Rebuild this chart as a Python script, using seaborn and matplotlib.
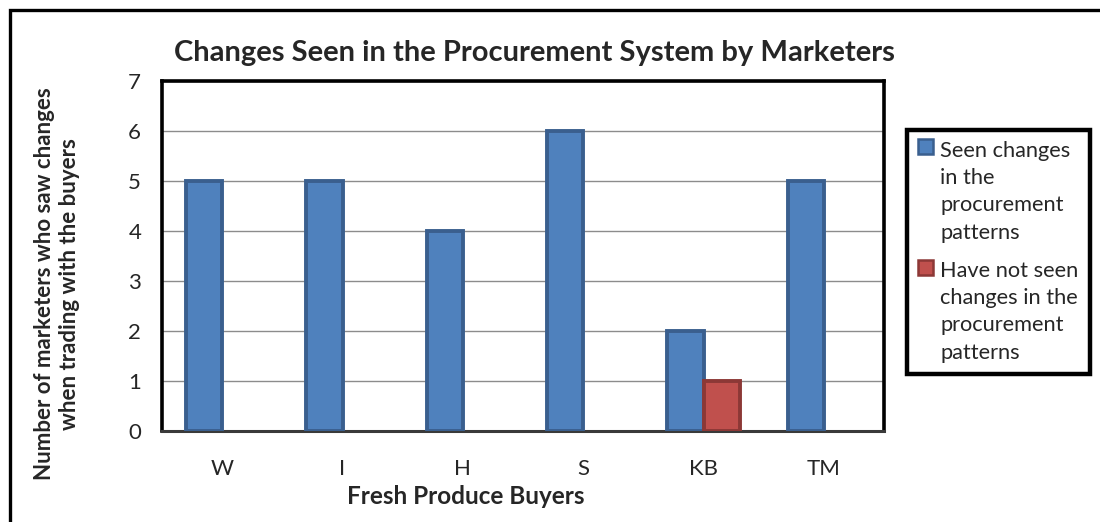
import pandas as pd
import numpy as np
import matplotlib.pyplot as plt
import seaborn as sns
from matplotlib.patches import Rectangle
from matplotlib.legend_handler import HandlerPatch

buyers = ['W', 'I', 'H', 'S', 'KB', 'TM']
seen = [5, 5, 4, 6, 2, 5]
not_seen_buyer = ['KB']
not_seen = [1]

lab_seen = 'Seen changes\nin the\nprocurement\npatterns'
lab_not = 'Have not seen\nchanges in the\nprocurement\npatterns'

rows = [(b, v, 'seen') for b, v in zip(buyers, seen)]
rows += [(b, v, 'not') for b, v in zip(not_seen_buyer, not_seen)]
df = pd.DataFrame(rows, columns=['buyer', 'count', 'group'])

sns.set_style('white')
plt.rcParams['font.family'] = ['Lato', 'DejaVu Sans']

fig = plt.figure(figsize=(11, 5.22), dpi=100)
ax = fig.add_axes([162 / 1100, 1 - 431 / 522, 722 / 1100, 350 / 522])

sns.barplot(data=df, x='buyer', y='count', hue='group', order=buyers,
            hue_order=['seen', 'not'], palette=['#4F81BD', '#C0504D'],
            saturation=1, width=0.6, dodge=True, legend=False, ax=ax, zorder=3)

edges = ['#3A5F8E', '#8C3836']
for cont, ec in zip(ax.containers, edges):
    for p in cont.patches:
        p.set_edgecolor(ec)
        p.set_linewidth(2.8)

ax.set_ylim(0, 7)
ax.set_xlim(-0.5, 5.5)
ax.set_yticks(range(0, 8))
ax.yaxis.grid(True, color='#8c8c8c', lw=1, zorder=0)
ax.set_axisbelow(True)
ax.set_xlabel('')
ax.set_ylabel('')

ax.set_xticks(np.arange(-0.5, 6, 1), minor=True)
ax.tick_params(axis='x', which='major', length=0, pad=20, labelsize=16)
ax.tick_params(axis='x', which='minor', length=6, width=1.2, color='#8c8c8c', direction='out')
ax.tick_params(axis='y', which='major', length=6, width=1.2, color='#8c8c8c', direction='out', pad=9, labelsize=16)

for side in ['top', 'right', 'left']:
    ax.spines[side].set_color('black')
    ax.spines[side].set_linewidth(2.6)
ax.spines['bottom'].set_color('#3a3a3a')
ax.spines['bottom'].set_linewidth(2.2)

fig.text(0.486, 1 - 53 / 522, 'Changes Seen in the Procurement System by Marketers',
         ha='center', va='center', fontsize=21, fontweight='bold')
fig.text(466 / 1100, 1 - 497 / 522, 'Fresh Produce Buyers',
         ha='center', va='center', fontsize=17.5, fontweight='bold')
fig.text(57 / 1100, 0.456, 'Number of marketers who saw changes\nwhen trading with the buyers',
         ha='center', va='center', rotation=90, fontsize=16, fontweight='bold',
         linespacing=1.2)


class TopHandler(HandlerPatch):
    # put the swatch beside the first line of a multi-line label
    def __init__(self, shift, **kw):
        super().__init__(**kw)
        self.shift = shift

    def create_artists(self, legend, orig_handle, xdescent, ydescent,
                       width, height, fontsize, trans):
        p = Rectangle((-xdescent, -ydescent + self.shift), width, height,
                      facecolor=orig_handle.get_facecolor(),
                      edgecolor=orig_handle.get_edgecolor(), lw=1.8)
        p.set_transform(trans)
        return [p]


handles = [cont.patches[0] for cont in ax.containers]
hmap = {h: TopHandler(32.5) for h in handles}

leg = fig.legend(handles=handles, labels=[lab_seen, lab_not], handler_map=hmap,
                 loc='upper left', bbox_to_anchor=(907 / 1100, 1 - 130 / 522),
                 fontsize=15.7, frameon=True, fancybox=False, framealpha=1,
                 handlelength=0.68, handleheight=0.68, handletextpad=0.35,
                 borderpad=0.5, labelspacing=0.85, borderaxespad=0)
leg.get_frame().set_edgecolor('black')
leg.get_frame().set_linewidth(3.2)
for t in leg.get_texts():
    t.set_linespacing(1.45)

fig.add_artist(Rectangle((10 / 1100, -0.1), 1.2, 1 - 10 / 522 + 0.1,
                         transform=fig.transFigure, fill=False,
                         edgecolor='black', lw=2.4))

plt.savefig('out.png', dpi=100)
